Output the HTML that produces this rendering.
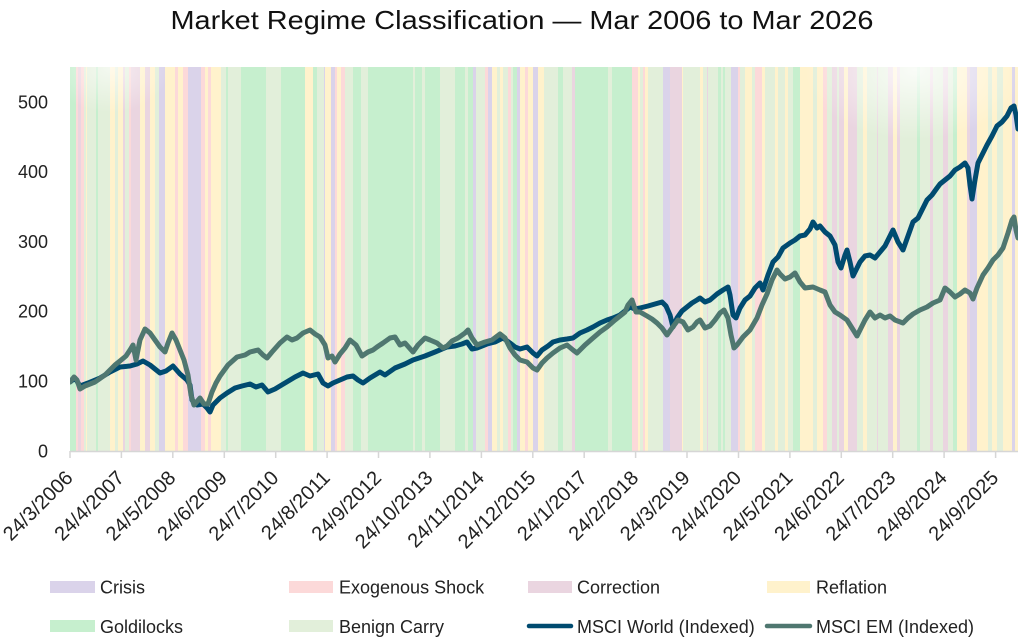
<!DOCTYPE html>
<html><head><meta charset="utf-8"><style>
html,body{margin:0;padding:0;background:#fff;}
svg{display:block;font-family:"Liberation Sans",sans-serif;}
</style></head><body>
<svg width="1024" height="639" viewBox="0 0 1024 639" xmlns="http://www.w3.org/2000/svg">
<defs>
<clipPath id="pc"><rect x="70" y="67" width="948" height="384"/></clipPath>
<radialGradient id="h1" cx="915" cy="70" r="1" gradientUnits="userSpaceOnUse" gradientTransform="translate(915 70) scale(110 70) translate(-915 -70)">
<stop offset="0" stop-color="#fff" stop-opacity="0.8"/><stop offset="1" stop-color="#fff" stop-opacity="0"/></radialGradient>
<radialGradient id="h2" cx="110" cy="68" r="1" gradientUnits="userSpaceOnUse" gradientTransform="translate(110 68) scale(60 45) translate(-110 -68)">
<stop offset="0" stop-color="#fff" stop-opacity="0.6"/><stop offset="1" stop-color="#fff" stop-opacity="0"/></radialGradient>
</defs>
<rect width="1024" height="639" fill="#fff"/>
<text x="522" y="29" font-size="26" text-anchor="middle" textLength="703" lengthAdjust="spacingAndGlyphs" fill="#111">Market Regime Classification — Mar 2006 to Mar 2026</text>
<g clip-path="url(#pc)" shape-rendering="crispEdges">
<g fill="#c6efce"><rect x="70" y="67" width="948" height="384"/></g>
<g fill="#e2efda">
<rect x="84" y="67" width="2" height="384"/><rect x="87" y="67" width="9" height="384"/><rect x="98" y="67" width="12" height="384"/><rect x="115" y="67" width="3" height="384"/><rect x="125" y="67" width="4" height="384"/><rect x="155" y="67" width="4" height="384"/><rect x="221" y="67" width="5" height="384"/><rect x="228" y="67" width="13" height="384"/><rect x="266" y="67" width="15" height="384"/><rect x="317" y="67" width="7" height="384"/><rect x="345" y="67" width="8" height="384"/><rect x="361" y="67" width="7" height="384"/><rect x="413" y="67" width="2" height="384"/><rect x="422" y="67" width="3" height="384"/><rect x="440" y="67" width="15" height="384"/><rect x="465" y="67" width="3" height="384"/><rect x="476" y="67" width="9" height="384"/><rect x="497" y="67" width="3" height="384"/><rect x="503" y="67" width="5" height="384"/><rect x="511" y="67" width="2" height="384"/><rect x="544" y="67" width="14" height="384"/><rect x="563" y="67" width="9" height="384"/><rect x="608" y="67" width="4" height="384"/><rect x="640" y="67" width="3" height="384"/><rect x="648" y="67" width="15" height="384"/><rect x="683" y="67" width="17" height="384"/><rect x="703" y="67" width="4" height="384"/><rect x="708" y="67" width="10" height="384"/><rect x="721" y="67" width="2" height="384"/><rect x="725" y="67" width="6" height="384"/><rect x="740" y="67" width="5" height="384"/><rect x="752" y="67" width="3" height="384"/><rect x="765" y="67" width="10" height="384"/><rect x="778" y="67" width="7" height="384"/><rect x="788" y="67" width="5" height="384"/><rect x="813" y="67" width="4" height="384"/><rect x="827" y="67" width="5" height="384"/><rect x="837" y="67" width="2" height="384"/><rect x="857" y="67" width="6" height="384"/><rect x="867" y="67" width="10" height="384"/><rect x="878" y="67" width="10" height="384"/><rect x="900" y="67" width="17" height="384"/><rect x="920" y="67" width="10" height="384"/><rect x="933" y="67" width="10" height="384"/><rect x="948" y="67" width="5" height="384"/><rect x="988" y="67" width="4" height="384"/><rect x="997" y="67" width="6" height="384"/>
</g>
<g fill="#fff2cc">
<rect x="86" y="67" width="1" height="384"/><rect x="110" y="67" width="5" height="384"/><rect x="118" y="67" width="5" height="384"/><rect x="140" y="67" width="5" height="384"/><rect x="150" y="67" width="5" height="384"/><rect x="165" y="67" width="10" height="384"/><rect x="178" y="67" width="5" height="384"/><rect x="205" y="67" width="3" height="384"/><rect x="211" y="67" width="10" height="384"/><rect x="305" y="67" width="8" height="384"/><rect x="325" y="67" width="6" height="384"/><rect x="337" y="67" width="4" height="384"/><rect x="492" y="67" width="5" height="384"/><rect x="500" y="67" width="3" height="384"/><rect x="520" y="67" width="5" height="384"/><rect x="528" y="67" width="5" height="384"/><rect x="538" y="67" width="6" height="384"/><rect x="638" y="67" width="2" height="384"/><rect x="645" y="67" width="3" height="384"/><rect x="682" y="67" width="1" height="384"/><rect x="700" y="67" width="3" height="384"/><rect x="745" y="67" width="7" height="384"/><rect x="762" y="67" width="3" height="384"/><rect x="775" y="67" width="3" height="384"/><rect x="785" y="67" width="3" height="384"/><rect x="800" y="67" width="13" height="384"/><rect x="817" y="67" width="6" height="384"/><rect x="844" y="67" width="4" height="384"/><rect x="863" y="67" width="4" height="384"/><rect x="893" y="67" width="4" height="384"/><rect x="957" y="67" width="10" height="384"/><rect x="977" y="67" width="11" height="384"/><rect x="992" y="67" width="5" height="384"/><rect x="1003" y="67" width="9" height="384"/><rect x="1015" y="67" width="3" height="384"/>
</g>
<g fill="#ead5e0">
<rect x="78" y="67" width="3" height="384"/><rect x="123" y="67" width="2" height="384"/><rect x="131" y="67" width="9" height="384"/><rect x="145" y="67" width="5" height="384"/><rect x="572" y="67" width="3" height="384"/><rect x="670" y="67" width="12" height="384"/><rect x="707" y="67" width="1" height="384"/><rect x="832" y="67" width="5" height="384"/><rect x="839" y="67" width="5" height="384"/><rect x="848" y="67" width="9" height="384"/><rect x="877" y="67" width="1" height="384"/><rect x="888" y="67" width="5" height="384"/><rect x="897" y="67" width="3" height="384"/><rect x="930" y="67" width="3" height="384"/><rect x="943" y="67" width="5" height="384"/><rect x="967" y="67" width="3" height="384"/>
</g>
<g fill="#fcd9d9">
<rect x="76" y="67" width="2" height="384"/><rect x="81" y="67" width="3" height="384"/><rect x="129" y="67" width="2" height="384"/><rect x="175" y="67" width="3" height="384"/><rect x="183" y="67" width="5" height="384"/><rect x="201" y="67" width="4" height="384"/><rect x="208" y="67" width="3" height="384"/><rect x="335" y="67" width="2" height="384"/><rect x="341" y="67" width="4" height="384"/><rect x="485" y="67" width="3" height="384"/><rect x="508" y="67" width="3" height="384"/><rect x="525" y="67" width="3" height="384"/><rect x="632" y="67" width="6" height="384"/><rect x="643" y="67" width="2" height="384"/><rect x="738" y="67" width="2" height="384"/><rect x="755" y="67" width="7" height="384"/><rect x="823" y="67" width="4" height="384"/>
</g>
<g fill="#dad3ea">
<rect x="159" y="67" width="6" height="384"/><rect x="188" y="67" width="13" height="384"/><rect x="324" y="67" width="1" height="384"/><rect x="331" y="67" width="4" height="384"/><rect x="473" y="67" width="3" height="384"/><rect x="488" y="67" width="4" height="384"/><rect x="517" y="67" width="3" height="384"/><rect x="533" y="67" width="5" height="384"/><rect x="663" y="67" width="7" height="384"/><rect x="731" y="67" width="7" height="384"/><rect x="970" y="67" width="7" height="384"/><rect x="1012" y="67" width="3" height="384"/>
</g>
<rect x="70" y="67" width="948" height="384" fill="url(#h1)"/>
<rect x="70" y="67" width="948" height="384" fill="url(#h2)"/>
</g>
<line x1="70" y1="451.5" x2="1018" y2="451.5" stroke="#d6d6d6" stroke-width="1.5"/>
<g stroke="#d6d6d6" stroke-width="1.5">
<line x1="70" y1="451" x2="70" y2="458"/><line x1="121.4" y1="451" x2="121.4" y2="458"/><line x1="172.8" y1="451" x2="172.8" y2="458"/><line x1="224.3" y1="451" x2="224.3" y2="458"/><line x1="275.7" y1="451" x2="275.7" y2="458"/><line x1="327.1" y1="451" x2="327.1" y2="458"/><line x1="378.5" y1="451" x2="378.5" y2="458"/><line x1="429.9" y1="451" x2="429.9" y2="458"/><line x1="481.4" y1="451" x2="481.4" y2="458"/><line x1="532.8" y1="451" x2="532.8" y2="458"/><line x1="584.2" y1="451" x2="584.2" y2="458"/><line x1="635.6" y1="451" x2="635.6" y2="458"/><line x1="687" y1="451" x2="687" y2="458"/><line x1="738.5" y1="451" x2="738.5" y2="458"/><line x1="789.9" y1="451" x2="789.9" y2="458"/><line x1="841.3" y1="451" x2="841.3" y2="458"/><line x1="892.7" y1="451" x2="892.7" y2="458"/><line x1="944.1" y1="451" x2="944.1" y2="458"/><line x1="995.6" y1="451" x2="995.6" y2="458"/>
</g>
<g clip-path="url(#pc)" fill="none" stroke-width="5" stroke-linejoin="round" stroke-linecap="round">
<polyline stroke="#004b70" points="70,382 75,378 80,386 88,383 100,378 110,372 120,367 130,366 137,364 143,361 150,365 160,373 166,371 173,366 180,374 187,380 190,385 192,400 197,405 203,404 207,408 210,412 213,405 220,398 227,393 235,388 242,386 250,384 256,387 262,385 268,392 275,389 285,383 295,377 303,373 310,376 318,374 323,383 328,386 333,383 340,380 347,377 353,376 358,380 363,383 370,378 380,372 385,375 395,368 405,364 413,360 425,356 435,352 447,347 455,346 462,344 467,342 472,349 477,348 487,344 495,342 503,338 510,343 515,347 520,349 527,347 533,353 537,356 542,350 548,346 553,342 560,340 567,339 573,338 580,333 587,330 593,327 600,323 607,320 613,318 620,315 625,311 630,307 635,309 640,308 648,306 655,304 662,302 666,306 670,315 673,327 677,318 682,311 687,307 692,303 697,300 700,298 705,302 710,300 717,294 723,290 728,287 730,295 733,315 736,318 740,308 745,300 750,296 755,288 760,283 763,290 768,275 773,262 778,257 783,248 790,243 795,240 800,236 805,235 810,229 813,222 817,228 820,226 825,232 830,236 835,245 838,262 841,268 845,255 847,250 850,262 853,276 856,270 860,262 865,256 870,255 875,258 880,252 885,246 890,236 893,230 898,242 903,250 908,236 913,222 918,218 923,208 927,200 932,195 937,188 940,184 945,180 950,176 955,170 960,167 965,163 968,168 970,185 972,199 975,180 978,163 982,155 987,145 992,136 997,126 1002,122 1007,116 1011,108 1014,106 1016,115 1018,129"/>
<polyline stroke="#4f7770" points="70,382 74,377 77,380 80,389 85,386 95,382 105,375 115,365 120,361 126,356 130,350 133,345 136,360 140,340 145,329 150,333 155,340 160,347 165,352 168,343 172,333 176,340 180,350 184,360 188,375 191,395 194,405 200,398 204,404 208,404 212,392 216,383 220,376 228,365 237,357 245,355 250,352 258,350 263,355 267,358 272,352 280,343 287,337 292,340 297,338 303,333 310,330 315,334 320,337 325,345 328,358 332,356 335,362 340,354 345,348 350,340 356,345 362,356 368,352 373,350 377,347 383,343 390,338 395,337 400,345 405,343 413,352 418,345 425,338 430,340 437,343 443,348 447,346 452,341 458,338 465,333 468,330 472,338 477,345 485,342 492,340 500,334 505,338 510,348 515,355 520,360 527,362 533,368 537,370 542,363 547,358 553,353 560,348 567,345 573,350 577,353 585,345 593,338 600,332 607,327 615,320 620,316 625,312 628,305 632,300 636,312 640,312 647,316 652,319 657,323 662,328 667,335 672,328 678,320 683,322 688,330 693,327 697,322 700,320 705,328 710,326 715,320 720,313 724,310 728,318 731,335 734,348 737,345 743,337 750,330 757,318 762,305 767,294 772,280 777,270 780,274 785,279 790,277 795,273 800,282 805,288 813,287 820,290 825,292 830,305 835,312 840,315 847,320 852,328 857,336 860,330 865,320 870,312 875,318 880,315 885,318 890,316 895,320 903,323 908,318 913,314 920,310 927,307 933,303 940,300 945,288 950,292 955,297 960,294 965,290 970,293 973,299 977,288 983,275 988,268 993,260 998,255 1003,248 1008,233 1012,220 1014,217 1016,230 1018,238"/>
</g>
<g font-size="18" fill="#222" text-anchor="end">
<text x="48" y="108.5">500</text><text x="48" y="178">400</text><text x="48" y="248">300</text><text x="48" y="317.5">200</text><text x="48" y="387.5">100</text><text x="48" y="457.5">0</text>
</g>
<g font-size="20" fill="#222" text-anchor="end">
<text transform="translate(74 479) rotate(-45)">24/3/2006</text>
<text transform="translate(125.4 479) rotate(-45)">24/4/2007</text>
<text transform="translate(176.8 479) rotate(-45)">24/5/2008</text>
<text transform="translate(228.3 479) rotate(-45)">24/6/2009</text>
<text transform="translate(279.7 479) rotate(-45)">24/7/2010</text>
<text transform="translate(331.1 479) rotate(-45)">24/8/2011</text>
<text transform="translate(382.5 479) rotate(-45)">24/9/2012</text>
<text transform="translate(433.9 479) rotate(-45)">24/10/2013</text>
<text transform="translate(485.4 479) rotate(-45)">24/11/2014</text>
<text transform="translate(536.8 479) rotate(-45)">24/12/2015</text>
<text transform="translate(588.2 479) rotate(-45)">24/1/2017</text>
<text transform="translate(639.6 479) rotate(-45)">24/2/2018</text>
<text transform="translate(691 479) rotate(-45)">24/3/2019</text>
<text transform="translate(742.5 479) rotate(-45)">24/4/2020</text>
<text transform="translate(793.9 479) rotate(-45)">24/5/2021</text>
<text transform="translate(845.3 479) rotate(-45)">24/6/2022</text>
<text transform="translate(896.7 479) rotate(-45)">24/7/2023</text>
<text transform="translate(948.1 479) rotate(-45)">24/8/2024</text>
<text transform="translate(999.6 479) rotate(-45)">24/9/2025</text>
</g>
<rect x="50" y="581" width="45" height="12" fill="#dad3ea"/>
<rect x="289" y="581" width="44" height="12" fill="#fcd9d9"/>
<rect x="528" y="581" width="44" height="12" fill="#ead5e0"/>
<rect x="767" y="581" width="43" height="12" fill="#fff2cc"/>
<rect x="50" y="620" width="45" height="12" fill="#c6efce"/>
<rect x="289" y="620" width="44" height="12" fill="#e2efda"/>
<line x1="529" y1="626" x2="571" y2="626" stroke="#004b70" stroke-width="4.5" stroke-linecap="round"/>
<line x1="767" y1="626" x2="810" y2="626" stroke="#4f7770" stroke-width="4.5" stroke-linecap="round"/>
<g font-size="18" fill="#222">
<text x="100" y="593.5">Crisis</text>
<text x="339" y="593.5">Exogenous Shock</text>
<text x="577" y="593.5">Correction</text>
<text x="816" y="593.5">Reflation</text>
<text x="100" y="633">Goldilocks</text>
<text x="339" y="633">Benign Carry</text>
<text x="577" y="633">MSCI World (Indexed)</text>
<text x="816" y="633">MSCI EM (Indexed)</text>
</g>
</svg>
</body></html>
